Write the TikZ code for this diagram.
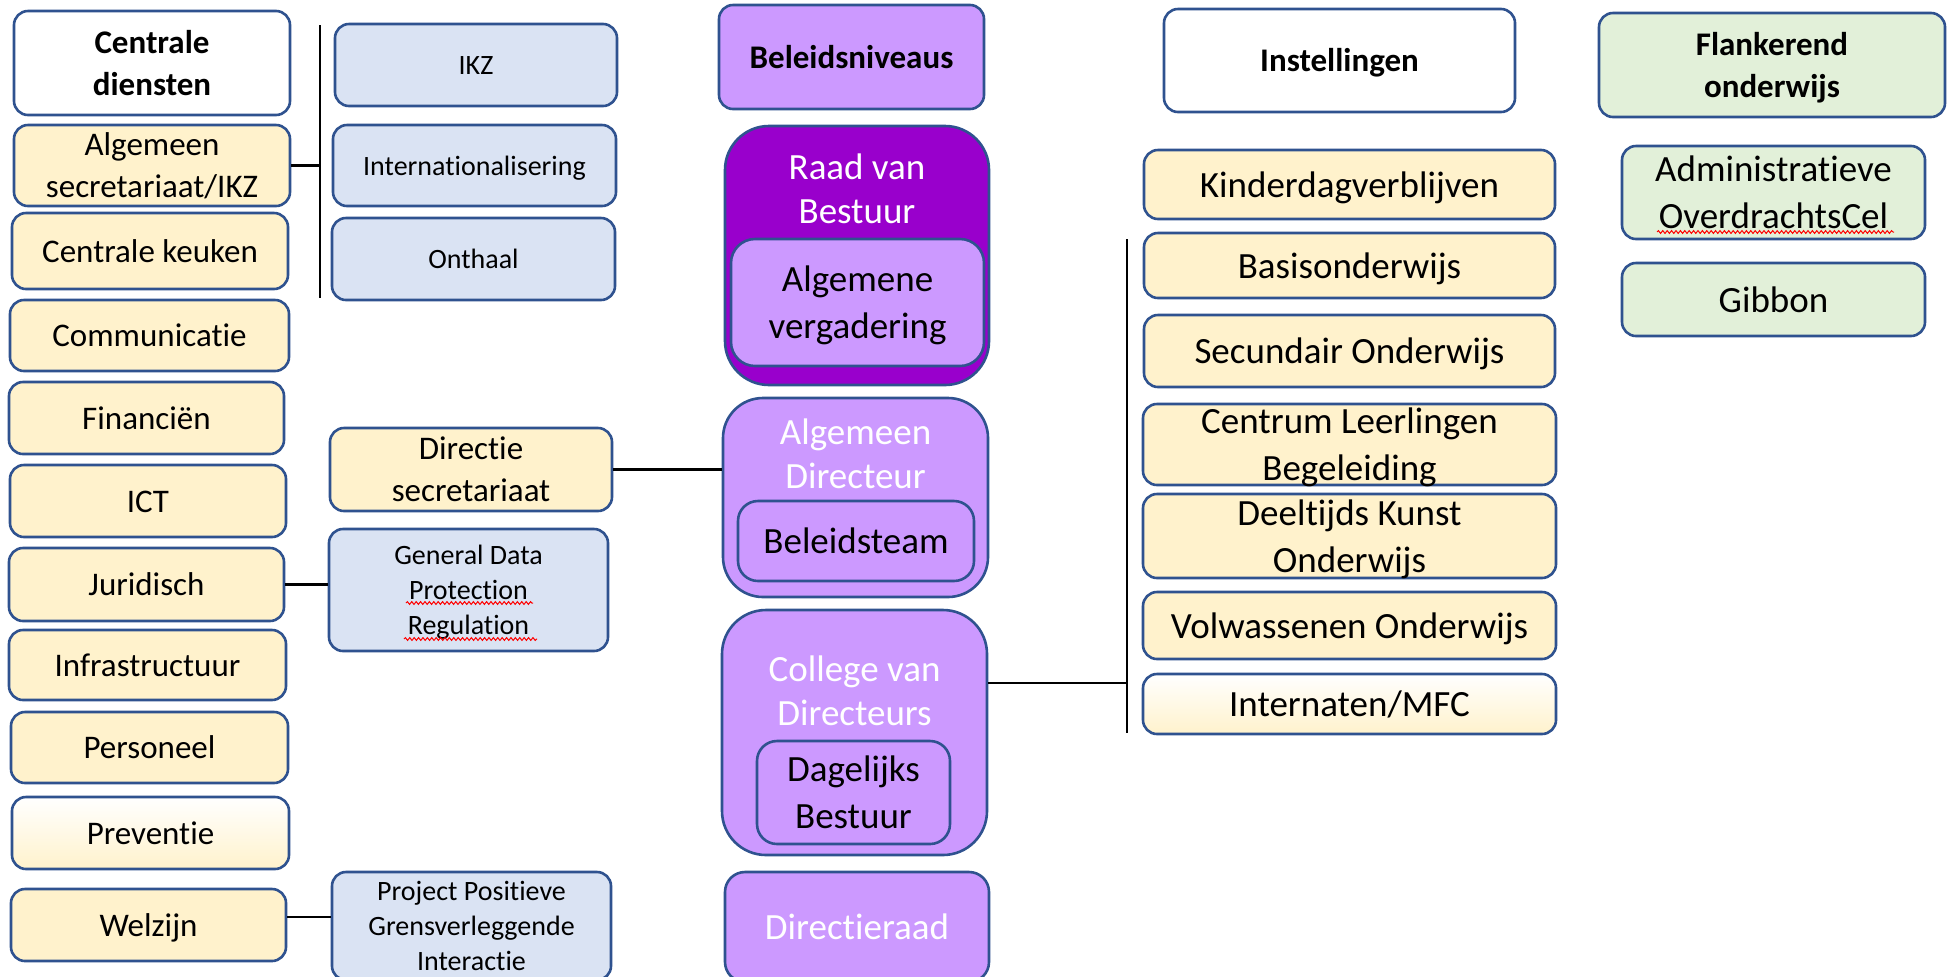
\documentclass[tikz,border=0pt]{standalone}
\usepackage{fontspec}
\setmainfont{Carlito}[Ligatures=NoCommon]
\usetikzlibrary{decorations.pathmorphing,calc}
\definecolor{ylw}{HTML}{FFF2CC}
\definecolor{blu}{HTML}{DAE3F3}
\definecolor{grn}{HTML}{E2F0D9}
\definecolor{lpur}{HTML}{CC99FF}
\definecolor{dpur}{HTML}{9900CC}
\definecolor{edgeblue}{HTML}{2F528F}
\newcommand{\zs}{\rule[-0.269em]{0pt}{1.221em}}
\begin{document}
\begin{tikzpicture}[x=0.5pt,y=-0.5pt,
  box/.style={draw=edgeblue, line width=1.3pt, rounded corners=7pt, align=center, inner xsep=0pt, inner ysep=-12pt, text=black},
  lfont/.style={font=\fontsize{16.5}{19}\selectfont},
  rfont/.style={font=\fontsize{18.5}{22.5}\selectfont},
  ybox/.style={box, fill=ylw, lfont},
  ygrad/.style={box, top color=white, bottom color=ylw, lfont},
  rybox/.style={box, fill=ylw, rfont},
  rygrad/.style={box, top color=white, bottom color=ylw, rfont},
  bbox/.style={box, fill=blu, font=\fontsize{14}{17.5}\selectfont},
  hbox/.style={box, fill=white, font=\fontsize{16.5}{20}\selectfont\bfseries},
  gbox/.style={box, fill=grn, rfont},
  pbox/.style={box, fill=lpur, font=\fontsize{18.5}{22}\selectfont},
  dbox/.style={box, fill=dpur},
  wtext/.style={text=white, align=center, inner sep=0pt, font=\fontsize{18.5}{22}\selectfont},
  conn/.style={draw=black, line width=1.2pt},
  squig/.style={draw=red, line width=0.5pt, decorate, decoration={snake, amplitude=0.7pt, segment length=2.2pt}}
]
\clip (0,0) rectangle (1948,976);
\fill[white] (0,0) rectangle (1948,976);

% left column
\node[hbox, minimum width=138pt, minimum height=52pt] (cd) at (152,63) {\zs Centrale\\diensten\zs};
\node[ybox, minimum width=138pt, minimum height=40.5pt] (as) at (152,165.5) {\zs Algemeen\\secretariaat/IKZ\zs};
\node[ybox, minimum width=138pt, minimum height=38pt] (ck) at (150,251) {\zs Centrale keuken\zs};
\node[ybox, minimum width=139.5pt, minimum height=35.5pt] (com) at (149.5,335.5) {\zs Communicatie\zs};
\node[ybox, minimum width=137.5pt, minimum height=36pt] (fin) at (146.5,418) {\zs Financiën\zs};
\node[ybox, minimum width=138pt, minimum height=36pt] (ict) at (148,501) {\zs ICT\zs};
\node[ybox, minimum width=137.5pt, minimum height=36.5pt] (jur) at (146.5,584.5) {\zs Juridisch\zs};
\node[ybox, minimum width=138.5pt, minimum height=35pt] (inf) at (147.5,665) {\zs Infrastructuur\zs};
\node[ybox, minimum width=138.5pt, minimum height=35.5pt] (per) at (149.5,747.5) {\zs Personeel\zs};
\node[ygrad, minimum width=138.5pt, minimum height=36pt] (pre) at (150.5,833) {\zs Preventie\zs};
\node[ybox, minimum width=137.5pt, minimum height=36pt] (wel) at (148.5,925) {\zs Welzijn\zs};

% second column
\node[bbox, minimum width=141pt, minimum height=41pt] (ikz) at (476,65) {\zs IKZ\zs};
\node[bbox, minimum width=141.5pt, minimum height=40.5pt] (int) at (474.5,165.5) {\zs Internationalisering\zs};
\node[bbox, minimum width=141.5pt, minimum height=41pt] (ont) at (473.5,259) {\zs Onthaal\zs};
\node[ybox, minimum width=141pt, minimum height=41.5pt] (ds) at (471,469.5) {\zs Directie\\secretariaat\zs};
\node[bbox, minimum width=139.5pt, minimum height=61pt] (gdpr) at (468.5,590) {\zs General Data\\Protection\\Regulation\zs};
\node[bbox, minimum width=139.5pt, minimum height=54pt] (ppg) at (471.5,926) {\zs Project Positieve\\Grensverleggende\\Interactie\zs};

% middle column
\node[pbox, minimum width=132.5pt, minimum height=52pt, font=\fontsize{16.5}{20}\selectfont\bfseries] (bn) at (851.5,57) {\zs Beleidsniveaus\zs};
\node[dbox, minimum width=132pt, minimum height=129.5pt, rounded corners=22pt] (rvb) at (857,255.5) {};
\node[wtext] (rvbt) at (857,189) {Raad van\\Bestuur};
\node[pbox, minimum width=126.5pt, minimum height=63.5pt, rounded corners=12pt] (av) at (857.5,302.5) {\zs Algemene\\vergadering\zs};
\node[pbox, minimum width=132.5pt, minimum height=99.5pt, rounded corners=20pt] (ad) at (855.5,497.5) {};
\node[wtext] (adt) at (855.5,454) {Algemeen\\Directeur};
\node[pbox, minimum width=118pt, minimum height=40pt, rounded corners=10pt] (bt) at (856,541) {\zs Beleidsteam\zs};
\node[pbox, minimum width=132.5pt, minimum height=122.5pt, rounded corners=22pt] (cvd) at (854.5,732.5) {};
\node[wtext] (cvdt) at (854.5,690.5) {College van\\Directeurs};
\node[pbox, minimum width=96.5pt, minimum height=51.5pt, rounded corners=10pt] (db) at (853.5,792.5) {\zs Dagelijks\\Bestuur\zs};
\node[pbox, text=white, minimum width=132pt, minimum height=55pt, rounded corners=10pt] (dr) at (857,927) {\zs Directieraad\zs};

% right column
\node[hbox, minimum width=175.5pt, minimum height=51.5pt] (ins) at (1339.5,60.5) {\zs Instellingen\zs};
\node[rybox, minimum width=205.5pt, minimum height=34.5pt] (kdv) at (1349.5,184.5) {\zs Kinderdagverblijven\zs};
\node[rybox, minimum width=205.5pt, minimum height=32.5pt] (bo) at (1349.5,265.5) {\zs Basisonderwijs\zs};
\node[rybox, minimum width=205.5pt, minimum height=36pt] (so) at (1349.5,351) {\zs Secundair Onderwijs\zs};
\node[rybox, minimum width=206.5pt, minimum height=40.5pt] (clb) at (1349.5,444.5) {\zs Centrum Leerlingen\\Begeleiding\zs};
\node[rybox, minimum width=206.5pt, minimum height=42pt] (dko) at (1349.5,536) {\zs Deeltijds Kunst\\Onderwijs\zs};
\node[rybox, minimum width=206.5pt, minimum height=33.5pt] (vo) at (1349.5,625.5) {\zs Volwassenen Onderwijs\zs};
\node[rygrad, minimum width=206.5pt, minimum height=30pt] (imfc) at (1349.5,704) {\zs Internaten/MFC\zs};

% far right column
\node[hbox, fill=grn, minimum width=173pt, minimum height=52pt] (fo) at (1772,65) {\zs Flankerend\\onderwijs\zs};
\node[gbox, minimum width=151.5pt, minimum height=46.5pt] (aoc) at (1773.5,192.5) {\zs Administratieve\\OverdrachtsCel\zs};
\node[gbox, minimum width=151.5pt, minimum height=36.5pt] (gib) at (1773.5,299.5) {\zs Gibbon\zs};

% spell-check marks
\draw[squig] (406,603) -- (533,603);
\draw[squig] (404,639) -- (537,639);
\draw[squig] (1657,232) -- (1894,232);

% connectors
\coordinate (v1t) at (320,25);
\coordinate (v1b) at (320,298);
\draw[conn] (v1t) -- (v1b);
\draw[conn] (as.east) -- (as.east -| v1t);
\draw[conn] (ds.east) -- (ds.east -| ad.west);
\draw[conn] (jur.east) -- (jur.east -| gdpr.west);
\draw[conn] ([yshift=4pt]wel.east) -- ([yshift=4pt]wel.east -| ppg.west);
\coordinate (v2t) at (1127,239);
\coordinate (v2b) at (1127,733);
\coordinate (v2m) at (1127,683);
\draw[conn] (v2t) -- (v2b);
\draw[conn] (cvd.east |- v2m) -- (v2m);
\end{tikzpicture}
\end{document}
